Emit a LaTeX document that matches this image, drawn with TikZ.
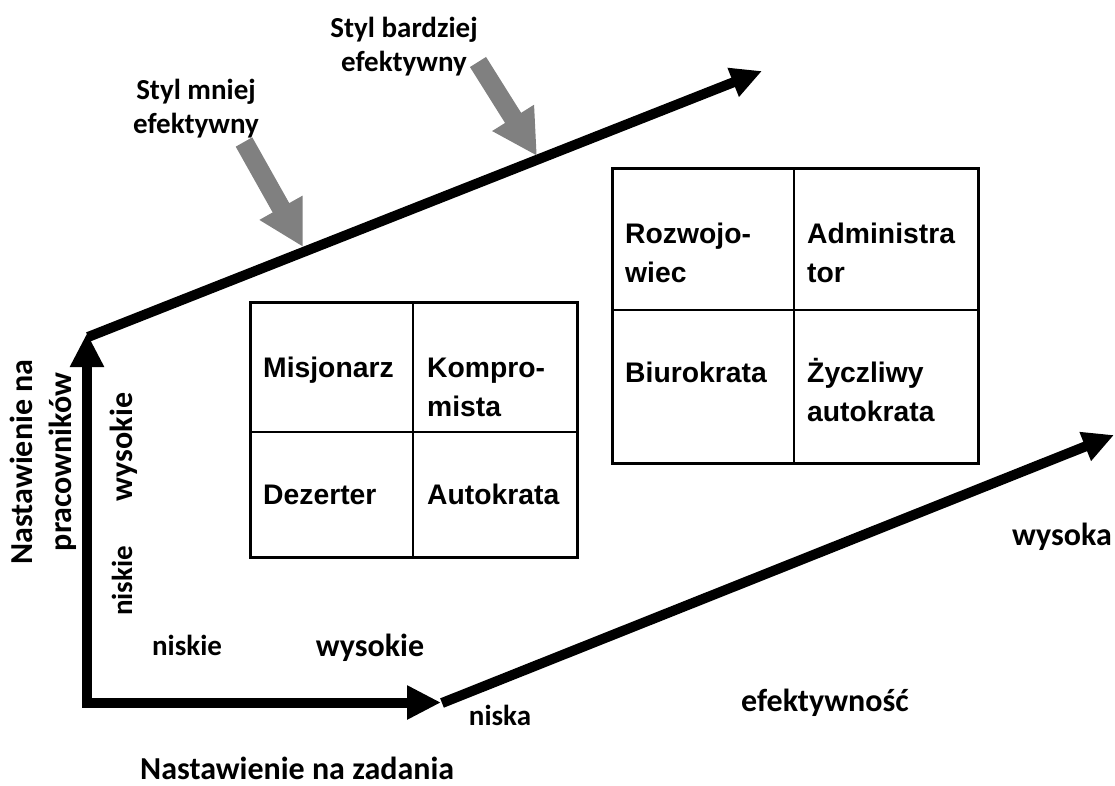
\documentclass[tikz,border=0pt]{standalone}
\usepackage{fontspec}
\setmainfont{Carlito}
\newfontfamily\gridfont{Liberation Sans}
\usetikzlibrary{arrows.meta}
\newcommand\stackc[2]{\vtop{\halign{\hfil##\hfil\cr#1\cr#2\cr}}}
\newcommand\stackl[2]{\vtop{\halign{##\hfil\cr#1\cr#2\cr}}}
\definecolor{arrgrey}{RGB}{128,128,128}
\tikzset{
  axisarrow/.style={line width=10pt, line cap=rect, -{Triangle[length=34pt,width=32pt]}},
  diagarrow/.style={line width=10pt, -{Triangle[length=31pt,width=29pt]}},
  greyarrow/.style={line width=19pt, draw=arrgrey, -{Triangle[length=45pt,width=46pt]}},
  outerframe/.style={line width=3pt},
  innerline/.style={line width=2pt},
  cal/.style={inner sep=0pt, font=\bfseries\fontsize{29}{34}\selectfont},
  calbig/.style={inner sep=0pt, font=\bfseries\fontsize{32}{39}\selectfont},
  gridtxt/.style={inner sep=0pt, anchor=base west, font=\gridfont\bfseries\fontsize{28.3}{39}\selectfont},
}
\begin{document}
\begin{tikzpicture}[x=1pt,y=-1pt]
\useasboundingbox (0,0) rectangle (1115,785);
% axes
\coordinate (O) at (87,702.5);
\coordinate (Vtop) at (87,333);
\coordinate (Hend) at (441,702.5);
\draw[axisarrow] (O) -- (Vtop);
\draw[axisarrow] (O) -- (Hend);
% diagonals
\coordinate (D1s) at (88,337);
\coordinate (D1e) at (762,71);
\coordinate (D2s) at (442,703);
\coordinate (D2e) at (1114,435);
\draw[diagarrow] (D1s) -- (D1e);
\draw[diagarrow] (D2s) -- (D2e);
% grey arrows
\coordinate (G1s) at (244,142);
\coordinate (G1e) at (303,247);
\coordinate (G2s) at (478,62);
\coordinate (G2e) at (537,156);
\draw[greyarrow] (G1s) -- (G1e);
\draw[greyarrow] (G2s) -- (G2e);
% left grid
\draw[outerframe] (250,302) rectangle (577,557);
\draw[innerline] (413,302) -- (413,557);
\draw[innerline] (250,432) -- (577,432);
\node[gridtxt] (mis) at (263,377) {Misjonarz};
\node[gridtxt] (kom) at (427,377) {\stackl{Kompro-}{mista}};
\node[gridtxt] (dez) at (263,504) {Dezerter};
\node[gridtxt] (aut) at (427,504) {Autokrata};
% right grid
\draw[outerframe] (612,168) rectangle (978,463);
\draw[innerline] (794,168) -- (794,463);
\draw[innerline] (612,310) -- (978,310);
\node[gridtxt] (roz) at (625,243) {\stackl{Rozwojo-}{wiec}};
\node[gridtxt] (adm) at (807,243) {\stackl{Administra}{tor}};
\node[gridtxt] (biu) at (625,382) {Biurokrata};
\node[gridtxt] (zyc) at (807,382) {\stackl{Życzliwy}{autokrata}};
% labels
\node[cal, anchor=base] (mniej) at (196,99) {\stackc{Styl mniej}{efektywny}};
\node[cal, anchor=base] (bardz) at (404,37) {\stackc{Styl bardziej}{efektywny}};
\node[calbig, rotate=90] (npr) at (43,462) {\stackc{Nastawienie na}{pracowników}};
\node[calbig, rotate=90] (wysv) at (124,447) {wysokie};
\node[cal, rotate=90] (nisv) at (122,581) {niskie};
\node[cal, anchor=base] (nish) at (187,655) {niskie};
\node[calbig, anchor=base] (wysh) at (370,656) {wysokie};
\node[cal, anchor=base] (niska) at (500,725) {niska};
\node[calbig, anchor=base] (efek) at (825,711) {efektywność};
\node[calbig, anchor=base] (wysoka) at (1062,545) {wysoka};
\node[calbig, anchor=base west] (zad) at (140,779) {Nastawienie na zadania};
\end{tikzpicture}
\end{document}
